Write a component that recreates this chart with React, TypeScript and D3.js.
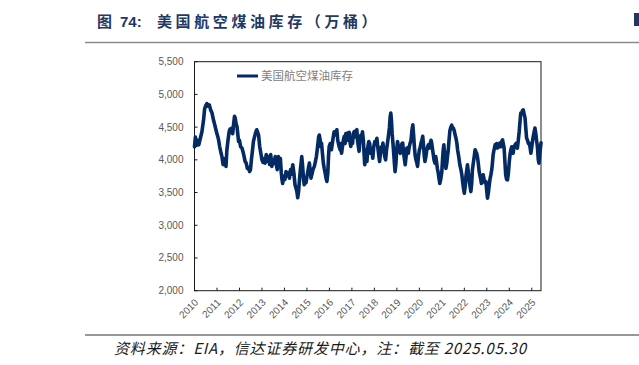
import React from "react";
import * as d3 from "d3";

const years: number[] = [
  2010.00, 2010.04, 2010.08, 2010.13, 2010.19, 2010.26, 2010.33, 2010.40, 2010.45, 2010.50, 2010.55, 2010.60, 2010.66, 2010.72, 2010.78, 2010.85, 2010.92, 2010.98,
  2011.04, 2011.07, 2011.12, 2011.17, 2011.22, 2011.27, 2011.32, 2011.36, 2011.40, 2011.44, 2011.49, 2011.54, 2011.58, 2011.62, 2011.66, 2011.70, 2011.74, 2011.78, 2011.81, 2011.85, 2011.89, 2011.93, 2011.96,
  2012.00, 2012.05, 2012.11, 2012.16, 2012.20, 2012.25, 2012.30, 2012.35, 2012.40, 2012.45, 2012.49, 2012.53, 2012.58, 2012.62, 2012.67, 2012.72, 2012.77, 2012.81, 2012.85, 2012.90, 2012.95,
  2013.00, 2013.05, 2013.10, 2013.14, 2013.19, 2013.24, 2013.29, 2013.34, 2013.39, 2013.44, 2013.49, 2013.54, 2013.59, 2013.64, 2013.68, 2013.73, 2013.78, 2013.82, 2013.86, 2013.89, 2013.92, 2013.97,
  2014.02, 2014.07, 2014.12, 2014.17, 2014.22, 2014.27, 2014.32, 2014.37, 2014.42, 2014.47, 2014.52, 2014.56, 2014.59, 2014.63, 2014.67, 2014.70, 2014.74, 2014.77, 2014.81, 2014.85, 2014.88, 2014.92, 2014.96,
  2015.00, 2015.04, 2015.08, 2015.11, 2015.15, 2015.18, 2015.22, 2015.27, 2015.33, 2015.38, 2015.42, 2015.45, 2015.49, 2015.52, 2015.55, 2015.59, 2015.62, 2015.65, 2015.69, 2015.73, 2015.77, 2015.81, 2015.85, 2015.89, 2015.93, 2015.96, 2015.99,
  2016.04, 2016.09, 2016.13, 2016.17, 2016.21, 2016.25, 2016.29, 2016.33, 2016.37, 2016.40, 2016.43, 2016.48, 2016.51, 2016.54, 2016.58, 2016.62, 2016.66, 2016.70, 2016.73, 2016.77, 2016.80, 2016.84, 2016.88, 2016.91, 2016.95, 2016.99,
  2017.03, 2017.06, 2017.10, 2017.14, 2017.18, 2017.22, 2017.25, 2017.29, 2017.32, 2017.36, 2017.40, 2017.44, 2017.47, 2017.51, 2017.54, 2017.57, 2017.62, 2017.67, 2017.71, 2017.75, 2017.79, 2017.83, 2017.88, 2017.93, 2017.97,
  2018.02, 2018.07, 2018.11, 2018.15, 2018.19, 2018.23, 2018.27, 2018.31, 2018.35, 2018.38, 2018.42, 2018.46, 2018.50, 2018.54, 2018.58, 2018.63, 2018.67, 2018.70, 2018.73, 2018.76, 2018.79, 2018.82, 2018.86, 2018.89, 2018.92, 2018.96, 2018.99,
  2019.03, 2019.07, 2019.11, 2019.15, 2019.19, 2019.23, 2019.26, 2019.30, 2019.34, 2019.37, 2019.41, 2019.44, 2019.47, 2019.51, 2019.55, 2019.59, 2019.63, 2019.67, 2019.71, 2019.74, 2019.78, 2019.81, 2019.85, 2019.89, 2019.92, 2019.96,
  2020.00, 2020.03, 2020.07, 2020.11, 2020.15, 2020.19, 2020.22, 2020.25, 2020.29, 2020.33, 2020.37, 2020.40, 2020.44, 2020.48, 2020.52, 2020.55, 2020.59, 2020.62, 2020.65, 2020.69, 2020.73, 2020.77, 2020.80, 2020.84, 2020.88, 2020.91, 2020.95,
  2021.00, 2021.03, 2021.06, 2021.09, 2021.13, 2021.18, 2021.22, 2021.25, 2021.28, 2021.32, 2021.36, 2021.40, 2021.44, 2021.48, 2021.51, 2021.55, 2021.59, 2021.63, 2021.67, 2021.70, 2021.75, 2021.80, 2021.85, 2021.89, 2021.93, 2021.97,
  2022.00, 2022.04, 2022.07, 2022.11, 2022.14, 2022.18, 2022.22, 2022.26, 2022.29, 2022.33, 2022.36, 2022.40, 2022.44, 2022.48, 2022.52, 2022.55, 2022.58, 2022.62, 2022.66, 2022.70, 2022.73, 2022.76, 2022.80, 2022.84, 2022.88, 2022.92, 2022.96, 2022.99,
  2023.03, 2023.07, 2023.11, 2023.14, 2023.18, 2023.22, 2023.25, 2023.28, 2023.32, 2023.37, 2023.41, 2023.44, 2023.47, 2023.51, 2023.55, 2023.58, 2023.62, 2023.66, 2023.70, 2023.73, 2023.77, 2023.80, 2023.84, 2023.88, 2023.92, 2023.96,
  2024.00, 2024.04, 2024.07, 2024.11, 2024.14, 2024.17, 2024.21, 2024.26, 2024.30, 2024.33, 2024.36, 2024.40, 2024.44, 2024.48, 2024.51, 2024.55, 2024.58, 2024.62, 2024.66, 2024.70, 2024.73, 2024.77, 2024.81, 2024.85, 2024.88, 2024.92, 2024.96,
  2025.00, 2025.05, 2025.09, 2025.14, 2025.18, 2025.21, 2025.25, 2025.29, 2025.32, 2025.36, 2025.41,
];

const inventory: number[] = [
  4200, 4350, 4220, 4300, 4230, 4330, 4430, 4600, 4780, 4830, 4860, 4820, 4840, 4760, 4715, 4600, 4510, 4420,
  4350, 4306, 4200, 4120, 4050, 3930, 3925, 4020, 3900, 4150, 4300, 4430, 4470, 4420, 4485, 4400, 4550, 4665, 4640, 4550, 4510, 4380, 4280,
  4300, 4200, 4180, 4120, 4060, 3975, 3950, 3870, 3880, 3820, 3850, 4000, 4150, 4280, 4350, 4420, 4460, 4420, 4380, 4200, 4100,
  4000, 3960, 4020, 3950, 4080, 3980, 4050, 3930, 4080, 3900, 4000, 3950, 4050, 3920, 3850, 4050, 3960, 4020, 3800, 3700, 3640, 3750,
  3700, 3820, 3760, 3800, 3720, 3850, 3780, 3925, 3800, 3620, 3560, 3500, 3420, 3520, 3700, 3820, 3950, 4050, 3900, 3700, 3620, 3680, 3650,
  3745, 3820, 3900, 3950, 3820, 3720, 3780, 3850, 3900, 3980, 4050, 4130, 4250, 4350, 4380, 4300, 4200, 4255, 4100, 3950, 3870, 3800, 3720, 3670, 3800, 4050, 4205,
  4250, 4155, 4250, 4350, 4430, 4380, 4420, 4460, 4300, 4250, 4205, 4150, 4250, 4100, 4200, 4300, 4360, 4250, 4400, 4300, 4410, 4300, 4420, 4280, 4205, 4300,
  4250, 4400, 4430, 4350, 4440, 4460, 4300, 4200, 4130, 4300, 4380, 4300, 4430, 4300, 4100, 3925, 4150, 3975, 4200, 4280, 4250, 4100, 4150, 4025, 4200,
  4280, 4250, 4330, 4200, 4080, 3975, 4100, 4200, 4150, 4255, 4150, 4050, 4000, 4150, 4250, 4380, 4500, 4650, 4715, 4600, 4400, 4280, 4100, 3950, 3820, 3950, 4150,
  4280, 4200, 4150, 4100, 4200, 4250, 4255, 4100, 4000, 3925, 4050, 4180, 4180, 4100, 4200, 4255, 4300, 4450, 4535, 4400, 4200, 4075, 4000, 3950, 3900, 4050,
  4150, 4180, 4250, 4300, 4360, 4200, 4050, 3975, 4050, 4150, 4200, 4230, 4180, 4250, 4300, 4255, 4150, 4080, 4000, 3950, 4050, 3950, 3870, 3800, 3700, 3640, 3700,
  3820, 4000, 4150, 4230, 4050, 3870, 3950, 4050, 4130, 4300, 4450, 4500, 4530, 4480, 4485, 4450, 4380, 4330, 4250, 4155, 4050, 3925, 3850, 3770, 3650, 3550,
  3490, 3600, 3745, 3850, 3925, 3800, 3670, 3580, 3515, 3650, 3850, 3950, 4050, 4155, 4120, 4100, 4050, 3950, 3820, 3750, 3700, 3640, 3700, 3770, 3700, 3650, 3670, 3550,
  3415, 3500, 3620, 3700, 3770, 3850, 3950, 4075, 4150, 4230, 4200, 4250, 4180, 4220, 4200, 4255, 4200, 4280, 4305, 4250, 4180, 4000, 3770, 3700, 3695, 3800,
  3975, 4100, 4155, 4200, 4150, 4100, 4200, 4230, 4250, 4200, 4180, 4300, 4430, 4600, 4715, 4700, 4750, 4765, 4700, 4640, 4500, 4330, 4300, 4250, 4255, 4200, 4100,
  4200, 4330, 4400, 4485, 4400, 4305, 4200, 4000, 3950, 4100, 4260,
];

const yTicks: number[] = [2000, 2500, 3000, 3500, 4000, 4500, 5000, 5500];
const xTicks: number[] = [2010, 2011, 2012, 2013, 2014, 2015, 2016, 2017, 2018, 2019, 2020, 2021, 2022, 2023, 2024, 2025];

const seriesName = "美国航空煤油库存";
const titleFig = "图";
const titleNum = "74:";
const titleText = "美国航空煤油库存（万桶）";
const source = "资料来源：EIA，信达证券研发中心，注：截至 2025.05.30";

export default function App() {
  const W = 639, H = 365;
  const left = 194.5, right = 541, top = 61.7, bottom = 290.7;
  const x = d3.scaleLinear().domain([2010, 2025.41]).range([left, right]);
  const y = d3.scaleLinear().domain([2000, 5500]).range([bottom, top]);
  const pts = years.map((t, i) => [t, inventory[i]] as [number, number]);
  const line = d3.line<[number, number]>().x(d => x(d[0])).y(d => y(d[1]));
  const fmt = d3.format(",");
  const navy = "#042a63";
  const grey = "#595959";
  const titleColor = "#1f3864";
  const cjk = "'Noto Sans CJK SC', 'Liberation Sans', sans-serif";

  return (
    <svg width={W} height={H} style={{ position: "absolute", left: 0, top: 0, background: "#fff" }}>
      <text x={97} y={27} fontFamily={cjk} fontWeight="bold" fontSize={15} fill={titleColor}>{titleFig}</text>
      <text x={120} y={27} fontFamily="'Liberation Sans', Arial, sans-serif" fontWeight="bold" fontSize={15} fill={titleColor}>{titleNum}</text>
      <text x={157} y={27} fontFamily={cjk} fontWeight="bold" fontSize={15} letterSpacing={3.6} fill={titleColor}>{titleText}</text>
      <rect x={634} y={13} width={5} height={13} fill={titleColor} />
      <line x1={85} x2={639} y1={42.5} y2={42.5} stroke="#8c8c8c" strokeWidth={1.5} />

      <rect x={left} y={top} width={right - left} height={bottom - top} fill="none" stroke="#1a1a1a" strokeWidth={1} />

      {yTicks.map(v => (
        <g key={v}>
          <line x1={left} x2={left + 3} y1={y(v)} y2={y(v)} stroke="#1a1a1a" />
          <text x={left - 11} y={y(v)} dy="0.35em" textAnchor="end" fontFamily="'Liberation Sans', Arial, sans-serif" fontSize={10} fill={grey}>{fmt(v)}</text>
        </g>
      ))}

      {xTicks.map(t => (
        <g key={t}>
          <line x1={x(t)} x2={x(t)} y1={bottom} y2={bottom - 3} stroke="#1a1a1a" />
          <text transform={`translate(${x(t) + 2},${bottom + 10}) rotate(-45)`} textAnchor="end" dy="0.35em" fontFamily="'Liberation Sans', Arial, sans-serif" fontSize={10} fill={grey}>{t}</text>
        </g>
      ))}

      <path d={line(pts) || ""} fill="none" stroke={navy} strokeWidth={3.6} strokeLinejoin="round" strokeLinecap="round" />

      <line x1={237} x2={258} y1={76} y2={76} stroke={navy} strokeWidth={3} />
      <text x={261} y={76} dy="0.35em" fontFamily="'Noto Sans CJK SC', sans-serif" fontSize={11.5} fill="#7f7f7f">{seriesName}</text>

      <line x1={85} x2={639} y1={335} y2={335} stroke="#333" strokeWidth={1.2} />
      <text x={114} y={354} fontFamily={cjk} fontStyle="italic" fontSize={15} textLength={412} lengthAdjust="spacing" fill="#1a1a1a">{source}</text>
    </svg>
  );
}
